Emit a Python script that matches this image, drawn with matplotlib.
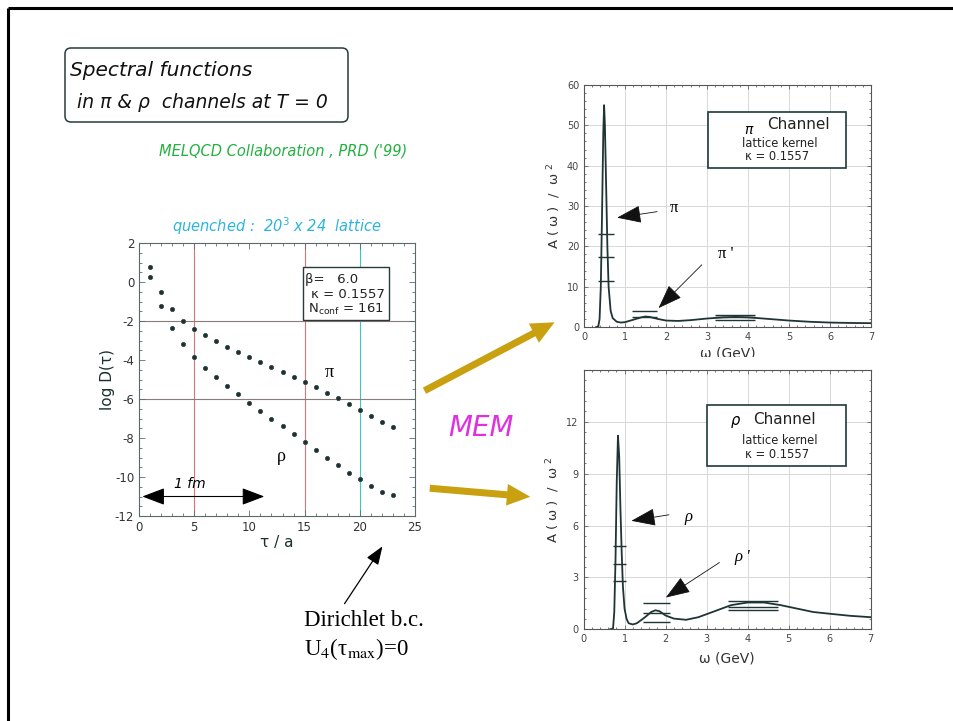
import matplotlib
matplotlib.use("Agg")
import matplotlib.pyplot as plt
from matplotlib.patches import Rectangle, FancyBboxPatch, FancyArrowPatch
from matplotlib.ticker import MultipleLocator

plt.rcParams["axes.unicode_minus"] = False

# ---------------- data ----------------
tau = [1, 2, 3, 4, 5, 6, 7, 8, 9, 10, 11, 12, 13, 14, 15, 16, 17, 18, 19, 20, 21, 22, 23]
logD_pi = [0.77, -0.50, -1.39, -2.00, -2.40, -2.73, -3.03, -3.33, -3.60, -3.84, -4.12, -4.37,
           -4.63, -4.87, -5.14, -5.40, -5.69, -5.96, -6.25, -6.56, -6.87, -7.16, -7.44]
logD_rho = [0.25, -1.25, -2.37, -3.20, -3.86, -4.40, -4.88, -5.33, -5.76, -6.19, -6.61, -7.02,
            -7.40, -7.81, -8.19, -8.62, -9.00, -9.40, -9.78, -10.10, -10.46, -10.76, -10.93]

omega_pi = [0.30, 0.35, 0.38, 0.41, 0.44, 0.47, 0.49, 0.51, 0.54, 0.57, 0.60, 0.65, 0.70, 0.80,
            0.90, 1.00, 1.20, 1.40, 1.50, 1.60, 1.80, 2.00, 2.30, 2.60, 3.00, 3.40, 3.70, 4.00,
            4.50, 5.00, 5.50, 6.00, 6.50, 7.00]
A_pi = [0.0, 0.2, 2.0, 10.0, 28.0, 48.0, 55.0, 50.0, 35.0, 20.0, 10.0, 4.0, 2.2, 1.3,
        1.1, 1.2, 1.8, 2.4, 2.6, 2.5, 2.0, 1.6, 1.5, 1.7, 2.1, 2.4, 2.5, 2.4,
        2.0, 1.6, 1.3, 1.1, 1.0, 0.95]
pi_err_y = [23.0, 17.3, 11.5, 4.0, 2.6, 3.0, 2.4, 1.7]
pi_err_lo = [0.33, 0.33, 0.33, 1.18, 1.18, 3.19, 3.19, 3.19]
pi_err_hi = [0.73, 0.73, 0.73, 1.78, 1.78, 4.17, 4.17, 4.17]

omega_rho = [0.65, 0.72, 0.75, 0.78, 0.81, 0.84, 0.87, 0.90, 0.93, 0.96, 1.00, 1.05, 1.10, 1.20,
             1.30, 1.50, 1.65, 1.75, 1.85, 2.00, 2.20, 2.50, 2.80, 3.20, 3.60, 4.00, 4.40,
             4.80, 5.20, 5.60, 6.00, 6.50, 7.00]
A_rho = [0.0, 0.05, 1.0, 4.0, 8.5, 11.2, 10.0, 7.0, 4.5, 2.5, 1.2, 0.6, 0.35, 0.28,
         0.35, 0.7, 1.0, 1.1, 1.05, 0.8, 0.62, 0.55, 0.7, 1.05, 1.4, 1.55, 1.55,
         1.4, 1.2, 1.0, 0.9, 0.78, 0.7]
rho_err_y = [4.8, 3.8, 2.8, 1.5, 0.95, 0.45, 1.65, 1.3, 1.1]
rho_err_lo = [0.71, 0.71, 0.71, 1.46, 1.46, 1.46, 3.53, 3.53, 3.53]
rho_err_hi = [1.04, 1.04, 1.04, 2.11, 2.11, 2.11, 4.73, 4.73, 4.73]

W, H = 954, 721
fig = plt.figure(figsize=(W / 100, H / 100), dpi=100)
fig.patch.set_facecolor("white")


def axpos(x0, y0, x1, y1):
    return [x0 / W, 1 - y1 / H, (x1 - x0) / W, (y1 - y0) / H]


DARK = "#1f3434"
ARROW = dict(arrowstyle="-|>,head_length=1.1,head_width=0.4", color="#111111", lw=0.6,
             mutation_scale=14)

# ---------------- left plot ----------------
axL = fig.add_axes(axpos(139, 243, 415, 516))
axL.set_xlim(0, 25)
axL.set_ylim(-12, 2)
for xv in (5, 15):
    axL.axvline(xv, color="#d07878", lw=0.8, zorder=1)
axL.axvline(20, color="#40c0c8", lw=0.8, zorder=1)
for yv in (-2, -6):
    axL.axhline(yv, color="#8a7a7a", lw=0.8, zorder=1)
axL.plot(tau, logD_pi, "o", ms=3.0, mfc="#2a2a2a", mec="#2a5050", mew=0.6, zorder=3)
axL.plot(tau, logD_rho, "o", ms=3.0, mfc="#2a2a2a", mec="#2a5050", mew=0.6, zorder=3)
axL.xaxis.set_major_locator(MultipleLocator(5))
axL.xaxis.set_minor_locator(MultipleLocator(1))
axL.yaxis.set_major_locator(MultipleLocator(2))
axL.yaxis.set_minor_locator(MultipleLocator(0.5))
axL.tick_params(which="both", direction="in", top=True, right=True, labelsize=8.5,
                labelcolor="#333333", color="#5a7070", width=0.6)
axL.tick_params(which="major", length=4)
axL.tick_params(which="minor", length=2)
for s in axL.spines.values():
    s.set_color("#5a6a6a")
    s.set_linewidth(0.8)
axL.set_xlabel("τ / a", fontsize=11, color="#1a3030", labelpad=1)
axL.set_ylabel("log D(τ)", fontsize=11, color="#1a3030", labelpad=0)
axL.set_title("quenched :  20$^3$ x 24  lattice", fontsize=10.5, color="#2cb4dc",
              style="italic", pad=8)
axL.add_patch(Rectangle((14.85, -1.95), 7.75, 2.7, facecolor="white", ec="#2a3a3a", lw=1.0, zorder=4))
axL.text(15.05, 0.12, "β=   6.0", fontsize=9.5, va="center", color="#222222", zorder=5)
axL.text(15.6, -0.65, "κ = 0.1557", fontsize=9.5, va="center", color="#222222", zorder=5)
axL.text(15.3, -1.42, r"N$_{\mathrm{conf}}$ = 161", fontsize=9.5, va="center", color="#222222", zorder=5)
axL.text(17.2, -4.65, "π", fontsize=13, family="Liberation Serif", ha="center", va="center")
axL.text(12.9, -8.96, "ρ", fontsize=13, family="Liberation Serif", ha="center", va="center")
axL.annotate("", xy=(0.05, -11), xytext=(11.6, -11),
             arrowprops=dict(arrowstyle="<|-|>,head_length=1.0,head_width=0.38",
                             color="black", lw=0.8, mutation_scale=14))
axL.text(4.6, -10.35, "1 fm", fontsize=10, style="italic", ha="center", va="center")


def style_right(ax, pad):
    ax.set_xlim(0, 7)
    ax.xaxis.set_major_locator(MultipleLocator(1))
    ax.xaxis.set_minor_locator(MultipleLocator(0.2))
    ax.grid(True, which="major", color="#d8d8d8", lw=0.7)
    ax.set_axisbelow(True)
    ax.tick_params(which="both", direction="in", top=True, right=True, labelsize=7,
                   labelcolor="#444444", color="#666666", width=0.6)
    ax.tick_params(which="major", length=3)
    ax.tick_params(which="minor", length=1.5)
    for s in ax.spines.values():
        s.set_color("#555555")
        s.set_linewidth(0.8)
    ax.set_ylabel("A ( ω )  /  ω $^2$", fontsize=9.5, color="#333333", labelpad=3)
    ax.set_xlabel("ω (GeV)", fontsize=10, color="#333333", labelpad=pad)


# ---------------- top right ----------------
axT = fig.add_axes(axpos(584, 85, 871, 327))
style_right(axT, 3.5)
axT.set_ylim(0, 60)
axT.yaxis.set_major_locator(MultipleLocator(10))
axT.yaxis.set_minor_locator(MultipleLocator(2))
axT.plot(omega_pi, A_pi, color=DARK, lw=1.3, zorder=3)
axT.hlines(pi_err_y, pi_err_lo, pi_err_hi, color=DARK, lw=1.0, zorder=3)
axT.add_patch(Rectangle((3.02, 39.3), 3.38, 14.1, facecolor="white", ec="#1f3a3a", lw=1.2, zorder=4))
axT.text(4.0, 48.8, "π", fontsize=10, style="italic", ha="center", va="center", zorder=5)
axT.text(5.22, 50.3, "Channel", fontsize=11, ha="center", va="center", color="#222", zorder=5)
axT.text(4.77, 45.6, "lattice kernel", fontsize=8.3, ha="center", va="center", color="#222", zorder=5)
axT.text(4.7, 42.2, "κ = 0.1557", fontsize=8.3, ha="center", va="center", color="#222", zorder=5)
axT.text(2.2, 29.4, "π", fontsize=12, family="Liberation Serif", ha="center", va="center")
axT.annotate("", xy=(0.74, 27.0), xytext=(1.85, 28.7), arrowprops=ARROW)
axT.text(3.45, 18.2, "π '", fontsize=12, family="Liberation Serif", ha="center", va="center")
axT.annotate("", xy=(1.77, 4.2), xytext=(2.92, 15.9), arrowprops=ARROW)

# ---------------- bottom right ----------------
axB = fig.add_axes(axpos(583.5, 370, 870.7, 629.3))
style_right(axB, 5)
axB.set_ylim(0, 15)
axB.yaxis.set_minor_locator(MultipleLocator(0.6))
axB.set_yticks([0, 3, 6, 9, 12])
axB.plot(omega_rho, A_rho, color=DARK, lw=1.3, zorder=3)
axB.hlines(rho_err_y, rho_err_lo, rho_err_hi, color=DARK, lw=1.0, zorder=3)
axB.add_patch(Rectangle((3.0, 9.44), 3.4, 3.56, facecolor="white", ec="#1f3a3a", lw=1.2, zorder=4))
axB.text(3.69, 12.1, "ρ", fontsize=10.5, style="italic", ha="center", va="center", zorder=5)
axB.text(4.89, 12.15, "Channel", fontsize=11, ha="center", va="center", color="#222", zorder=5)
axB.text(4.78, 10.95, "lattice kernel", fontsize=8.3, ha="center", va="center", color="#222", zorder=5)
axB.text(4.72, 10.1, "κ = 0.1557", fontsize=8.3, ha="center", va="center", color="#222", zorder=5)
axB.text(2.56, 6.5, "ρ", fontsize=12, family="Liberation Serif", style="italic", ha="center", va="center")
axB.annotate("", xy=(1.1, 6.25), xytext=(2.15, 6.65), arrowprops=ARROW)
axB.text(3.86, 4.2, "ρ '", fontsize=12, family="Liberation Serif", style="italic", ha="center", va="center")
axB.annotate("", xy=(1.95, 1.75), xytext=(3.37, 3.95), arrowprops=ARROW)

# ---------------- overlay (slide) ----------------
ax0 = fig.add_axes([0, 0, 1, 1], zorder=10)
ax0.set_xlim(0, W)
ax0.set_ylim(H, 0)
ax0.axis("off")

ax0.plot([8, W], [8, 8], color="black", lw=2.2, solid_capstyle="butt")
ax0.plot([8, 8], [8, H], color="black", lw=2.2, solid_capstyle="butt")

# hide lower part of top xlabel (overlapped by the lower picture)
ax0.add_patch(Rectangle((545, 357), 360, 11, facecolor="white", ec="none"))

ax0.add_patch(FancyBboxPatch((65, 48), 283, 74, boxstyle="round,pad=0,rounding_size=6",
                             facecolor="none", ec="#2a3a3a", lw=1.1))
ax0.text(70, 70, "Spectral functions", fontsize=14.5, style="italic", va="center", color="#111")
ax0.text(77, 103, "in π & ρ  channels at T = 0", fontsize=13.5, style="italic", va="center", color="#111")
ax0.text(283, 151, "MELQCD Collaboration , PRD ('99)", fontsize=10.5, style="italic",
         ha="center", va="center", color="#22b040")
ax0.text(481, 428, "MEM", fontsize=20, style="italic", ha="center", va="center", color="#e030e0")

gold = "#c9a010"
ax0.add_patch(FancyArrowPatch((422, 392), (557, 321),
                              arrowstyle="simple,head_length=1.4,head_width=1.3,tail_width=0.42",
                              mutation_scale=12, color=gold, lw=0))
ax0.add_patch(FancyArrowPatch((427, 488), (533, 497),
                              arrowstyle="simple,head_length=1.4,head_width=1.3,tail_width=0.42",
                              mutation_scale=12, color=gold, lw=0))

ax0.annotate("", xy=(384, 544), xytext=(343, 606),
             arrowprops=dict(arrowstyle="-|>,head_length=0.8,head_width=0.3",
                             color="black", lw=0.9, mutation_scale=14))
ax0.text(304, 620, "Dirichlet b.c.", fontsize=16.5, family="Liberation Serif", va="center")
ax0.text(304, 649, r"U$_4$(τ$_{\mathrm{max}}$)=0", fontsize=16.5, family="Liberation Serif",
         va="center", math_fontfamily="stix")

fig.savefig("out.png", dpi=100, facecolor="white")
